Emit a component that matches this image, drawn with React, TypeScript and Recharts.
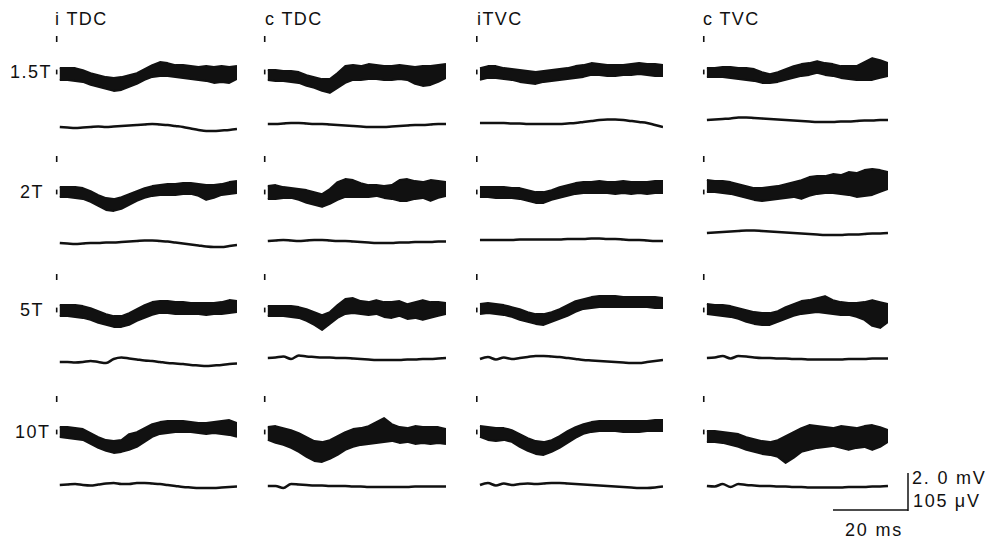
import React from "react";
import { ComposedChart, Area, Line, XAxis, YAxis, ReferenceLine } from "recharts";

// ---- data ----------------------------------------------------------------
const TIME_MS = [0, 2, 4, 6, 8, 10, 12, 14, 16, 18, 20, 22, 24, 26, 28, 30, 32, 34, 36, 38, 40, 42, 44, 46];
const COLUMN_TITLES = ["i TDC", "c TDC", "iTVC", "c TVC"];
const ROW_LABELS = ["1.5T", "2T", "5T", "10T"];

// raw sweeps envelope (mV, upper / lower edge) and averaged response (µV)
// 1.5T
const iTDC_15_hi = [0.2, 0.2, 0.2, 0.1, -0.05, -0.15, -0.25, -0.3, -0.25, -0.15, -0.05, 0.15, 0.35, 0.5, 0.45, 0.35, 0.35, 0.3, 0.25, 0.3, 0.25, 0.3, 0.25, 0.3];
const iTDC_15_lo = [-0.4, -0.4, -0.45, -0.5, -0.65, -0.75, -0.85, -0.95, -0.9, -0.75, -0.6, -0.4, -0.25, -0.2, -0.2, -0.25, -0.3, -0.35, -0.4, -0.45, -0.55, -0.5, -0.55, -0.35];
const iTDC_15_avg = [0, -1.5, -3, -1.5, 0, 1.5, 0, 1.5, 3, 4.5, 6, 7.5, 9, 7.5, 6, 3, 0, -4.5, -9, -12, -12, -10.5, -9, -6];
const cTDC_15_hi = [0.1, 0.1, 0.05, 0.05, 0, -0.15, -0.25, -0.35, -0.35, -0.05, 0.3, 0.35, 0.3, 0.4, 0.35, 0.3, 0.3, 0.35, 0.3, 0.25, 0.3, 0.3, 0.35, 0.4];
const cTDC_15_lo = [-0.4, -0.45, -0.45, -0.5, -0.55, -0.7, -0.8, -0.95, -1.05, -0.8, -0.55, -0.4, -0.4, -0.35, -0.35, -0.4, -0.4, -0.35, -0.4, -0.6, -0.7, -0.65, -0.5, -0.3];
const cTDC_15_avg = [0, 0, 1.5, 3, 3, 1.5, 0, 0, -1.5, -3, -4.5, -6, -7.5, -9, -9, -9, -7.5, -6, -4.5, -3, -3, -1.5, 0, 0];
const iTVC_15_hi = [0.2, 0.3, 0.3, 0.2, 0.15, 0.1, 0.05, 0, 0.05, 0.1, 0.15, 0.2, 0.3, 0.35, 0.45, 0.4, 0.35, 0.35, 0.35, 0.4, 0.45, 0.4, 0.4, 0.35];
const iTVC_15_lo = [-0.4, -0.3, -0.3, -0.35, -0.4, -0.5, -0.55, -0.6, -0.5, -0.45, -0.4, -0.35, -0.3, -0.25, -0.15, -0.15, -0.2, -0.2, -0.15, -0.15, -0.1, -0.15, -0.2, -0.2];
const iTVC_15_avg = [0, 0, 0, 0, -1.5, -1.5, -3, -3, -3, -3, -3, -1.5, 0, 3, 6, 9, 10.5, 10.5, 9, 6, 3, 0, -6, -12];
const cTVC_15_hi = [0.2, 0.2, 0.25, 0.25, 0.2, 0.2, 0.15, 0, -0.1, 0, 0.15, 0.3, 0.4, 0.45, 0.55, 0.45, 0.4, 0.3, 0.3, 0.3, 0.5, 0.7, 0.6, 0.45];
const cTVC_15_lo = [-0.25, -0.25, -0.25, -0.3, -0.35, -0.4, -0.45, -0.55, -0.55, -0.5, -0.4, -0.3, -0.2, -0.15, -0.05, -0.15, -0.2, -0.3, -0.35, -0.4, -0.4, -0.4, -0.3, -0.2];
const cTVC_15_avg = [0, 1.5, 3, 4.5, 7.5, 7.5, 6, 4.5, 3, 1.5, 0, -1.5, -3, -4.5, -6, -6, -6, -4.5, -4.5, -3, -1.5, -1.5, 0, 0];
// 2T
const iTDC_2_hi = [0.25, 0.25, 0.25, 0.2, 0.05, -0.15, -0.3, -0.35, -0.25, -0.1, 0.05, 0.2, 0.3, 0.35, 0.4, 0.4, 0.45, 0.45, 0.4, 0.35, 0.35, 0.4, 0.5, 0.55];
const iTDC_2_lo = [-0.25, -0.25, -0.3, -0.35, -0.5, -0.7, -0.9, -0.95, -0.85, -0.65, -0.45, -0.3, -0.2, -0.15, -0.15, -0.15, -0.1, -0.1, -0.2, -0.4, -0.3, -0.15, -0.1, -0.05];
const iTDC_2_avg = [0, -1.5, -3, -1.5, 0, 0, 1.5, 1.5, 3, 4.5, 6, 7.5, 7.5, 6, 4.5, 1.5, -1.5, -4.5, -7.5, -10.5, -12, -12, -9, -6];
const cTDC_2_hi = [0.3, 0.35, 0.25, 0.2, 0.15, 0.1, 0, -0.1, 0.15, 0.5, 0.65, 0.6, 0.45, 0.35, 0.35, 0.3, 0.35, 0.6, 0.65, 0.55, 0.5, 0.6, 0.55, 0.5];
const cTDC_2_lo = [-0.35, -0.35, -0.3, -0.3, -0.4, -0.55, -0.65, -0.75, -0.6, -0.4, -0.25, -0.25, -0.25, -0.25, -0.2, -0.3, -0.35, -0.45, -0.45, -0.35, -0.3, -0.45, -0.3, -0.2];
const cTDC_2_avg = [0, 1.5, 3, 1.5, 0, 1.5, 3, 3, 1.5, 0, 0, -1.5, -3, -4.5, -6, -6, -6, -4.5, -4.5, -3, -3, -3, -1.5, -1.5];
const iTVC_2_hi = [0.25, 0.25, 0.25, 0.25, 0.2, 0.2, 0.1, 0, 0, 0.1, 0.25, 0.35, 0.45, 0.5, 0.5, 0.55, 0.5, 0.5, 0.55, 0.5, 0.5, 0.5, 0.55, 0.55];
const iTVC_2_lo = [-0.25, -0.25, -0.3, -0.3, -0.3, -0.35, -0.45, -0.55, -0.55, -0.4, -0.3, -0.2, -0.1, -0.05, -0.05, -0.05, -0.05, -0.1, -0.05, -0.1, -0.05, -0.1, -0.05, -0.05];
const iTVC_2_avg = [0, 0, 0, 0, 0, 1.5, 1.5, 1.5, 1.5, 1.5, 1.5, 3, 3, 3, 4.5, 4.5, 3, 3, 1.5, 0, 0, -1.5, -3, -3];
const cTVC_2_hi = [0.6, 0.55, 0.55, 0.5, 0.4, 0.3, 0.2, 0.2, 0.25, 0.3, 0.4, 0.5, 0.6, 0.75, 0.8, 0.8, 0.9, 0.85, 1, 0.95, 1.1, 1.15, 1.1, 1];
const cTVC_2_lo = [0, 0, -0.05, -0.1, -0.2, -0.3, -0.4, -0.45, -0.4, -0.35, -0.3, -0.25, -0.35, -0.2, -0.1, -0.05, -0.05, -0.1, -0.15, -0.25, -0.2, -0.15, 0, 0.15];
const cTVC_2_avg = [0, 1.5, 3, 4.5, 6, 7.5, 7.5, 6, 4.5, 3, 1.5, 0, -1.5, -3, -4.5, -6, -6, -6, -4.5, -4.5, -3, -1.5, -1.5, 0];
// 5T
const iTDC_5_hi = [0.25, 0.25, 0.25, 0.2, 0.1, -0.05, -0.2, -0.3, -0.3, -0.15, 0.05, 0.25, 0.4, 0.45, 0.45, 0.4, 0.4, 0.35, 0.35, 0.35, 0.35, 0.4, 0.5, 0.45];
const iTDC_5_lo = [-0.3, -0.3, -0.35, -0.4, -0.5, -0.65, -0.75, -0.85, -0.85, -0.75, -0.55, -0.4, -0.25, -0.15, -0.15, -0.2, -0.2, -0.2, -0.2, -0.25, -0.2, -0.2, -0.15, -0.1];
const iTDC_5_avg = [0, 0, -1.5, 0, 3, 0, -3, 9, 13.5, 10.5, 7.5, 4.5, 3, 0, -3, -4.5, -6, -9, -10.5, -12, -10.5, -9, -6, -4.5];
const cTDC_5_hi = [0.2, 0.2, 0.2, 0.2, 0.15, 0.05, -0.1, -0.25, -0.1, 0.25, 0.55, 0.6, 0.45, 0.4, 0.5, 0.4, 0.4, 0.45, 0.3, 0.4, 0.5, 0.4, 0.4, 0.35];
const cTDC_5_lo = [-0.3, -0.3, -0.3, -0.35, -0.4, -0.55, -0.75, -1, -0.7, -0.4, -0.2, -0.15, -0.2, -0.25, -0.2, -0.35, -0.4, -0.3, -0.45, -0.4, -0.5, -0.4, -0.3, -0.2];
const cTDC_5_avg = [0, 1.5, 4.5, -3, 7.5, 4.5, 3, 1.5, 1.5, 0, 0, -1.5, -3, -4.5, -6, -6, -6, -6, -4.5, -4.5, -3, -3, -1.5, 0];
const iTVC_5_hi = [0.3, 0.35, 0.3, 0.25, 0.15, 0.05, -0.1, -0.2, -0.2, -0.1, 0.05, 0.25, 0.45, 0.55, 0.65, 0.7, 0.7, 0.7, 0.65, 0.65, 0.65, 0.65, 0.65, 0.6];
const iTVC_5_lo = [-0.2, -0.15, -0.2, -0.25, -0.35, -0.5, -0.6, -0.7, -0.75, -0.6, -0.45, -0.3, -0.1, 0.05, 0.1, 0.15, 0.15, 0.15, 0.15, 0.15, 0.15, 0.15, 0.1, 0.1];
const iTVC_5_avg = [0, 6, -1.5, 4.5, 0, 3, 6, 9, 9, 7.5, 6, 3, 0, -3, -4.5, -6, -7.5, -9, -10.5, -12, -12, -9, -6, -3];
const cTVC_5_hi = [0.3, 0.25, 0.25, 0.2, 0.1, 0, -0.1, -0.15, -0.15, -0.05, 0.15, 0.3, 0.45, 0.5, 0.6, 0.7, 0.5, 0.4, 0.35, 0.35, 0.4, 0.5, 0.4, 0.3];
const cTVC_5_lo = [-0.2, -0.25, -0.3, -0.35, -0.45, -0.6, -0.7, -0.75, -0.75, -0.6, -0.45, -0.3, -0.2, -0.15, -0.1, -0.15, -0.2, -0.25, -0.25, -0.35, -0.5, -0.8, -0.9, -0.6];
const cTVC_5_avg = [0, 1.5, 6, -1.5, 6, 4.5, 1.5, 0, 0, -1.5, -1.5, -3, -3, -4.5, -4.5, -4.5, -4.5, -4.5, -3, -3, -3, -1.5, -1.5, -1.5];
// 10T
const iTDC_10_hi = [0.25, 0.25, 0.2, 0.15, -0.05, -0.25, -0.4, -0.45, -0.4, -0.1, 0, 0.2, 0.4, 0.5, 0.55, 0.55, 0.55, 0.5, 0.45, 0.45, 0.5, 0.55, 0.6, 0.45];
const iTDC_10_lo = [-0.25, -0.3, -0.35, -0.4, -0.6, -0.8, -0.95, -1.05, -1, -0.9, -0.75, -0.5, -0.25, -0.1, -0.05, 0, 0, 0, -0.05, -0.1, -0.05, -0.1, -0.15, -0.25];
const iTDC_10_avg = [0, 1.5, 3, 0, -1.5, 1.5, 4.5, 6, 3, 3, 6, 6, 4.5, 3, 0, -3, -6, -7.5, -9, -9, -9, -7.5, -6, -4.5];
const cTDC_10_hi = [0.25, 0.3, 0.2, 0.1, -0.05, -0.25, -0.45, -0.5, -0.4, -0.2, 0, 0.15, 0.2, 0.3, 0.5, 0.7, 0.4, 0.25, 0.2, 0.3, 0.25, 0.25, 0.25, 0.15];
const cTDC_10_lo = [-0.4, -0.55, -0.65, -0.8, -1, -1.25, -1.45, -1.5, -1.35, -1.15, -0.9, -0.75, -0.65, -0.6, -0.55, -0.5, -0.45, -0.55, -0.5, -0.6, -0.55, -0.6, -0.55, -0.6];
const cTDC_10_avg = [0, 0, -6, 6, 4.5, 3, 1.5, 1.5, 0, 0, 0, -1.5, -1.5, -3, -3, -3, -3, -3, -3, -1.5, -1.5, -1.5, -1.5, -1.5];
const iTVC_10_hi = [0.3, 0.25, 0.2, 0.2, 0.1, -0.1, -0.3, -0.45, -0.5, -0.4, -0.2, 0.05, 0.25, 0.4, 0.5, 0.55, 0.55, 0.55, 0.55, 0.55, 0.55, 0.55, 0.6, 0.6];
const iTVC_10_lo = [-0.25, -0.4, -0.45, -0.4, -0.5, -0.75, -0.95, -1.1, -1.15, -1, -0.8, -0.55, -0.3, -0.1, 0, 0.05, 0.05, 0.05, 0, 0, 0, 0.05, 0.05, 0.05];
const iTVC_10_avg = [0, 6, -1.5, 4.5, 0, 3, 4.5, 3, 4.5, 6, 6, 4.5, 3, 1.5, 0, -1.5, -3, -4.5, -6, -7.5, -9, -9, -7.5, -4.5];
const cTVC_10_hi = [0.05, 0.05, 0, -0.05, -0.1, -0.25, -0.35, -0.45, -0.5, -0.4, -0.2, 0, 0.2, 0.35, 0.3, 0.25, 0.2, 0.3, 0.25, 0.2, 0.3, 0.35, 0.25, 0.1];
const cTVC_10_lo = [-0.5, -0.5, -0.55, -0.65, -0.75, -0.9, -1, -1.1, -1.15, -1.25, -1.55, -1.3, -1, -0.9, -0.8, -0.75, -0.7, -0.8, -0.9, -0.8, -0.75, -0.9, -0.75, -0.5];
const cTVC_10_avg = [0, -1.5, 6, -3, 6, 3, 1.5, 0, 0, -1.5, -1.5, -3, -3, -4.5, -4.5, -4.5, -4.5, -4.5, -3, -3, -3, -1.5, -1.5, 0];

const PANELS = [
  [
    { hi: iTDC_15_hi, lo: iTDC_15_lo, avg: iTDC_15_avg },
    { hi: cTDC_15_hi, lo: cTDC_15_lo, avg: cTDC_15_avg },
    { hi: iTVC_15_hi, lo: iTVC_15_lo, avg: iTVC_15_avg },
    { hi: cTVC_15_hi, lo: cTVC_15_lo, avg: cTVC_15_avg },
  ],
  [
    { hi: iTDC_2_hi, lo: iTDC_2_lo, avg: iTDC_2_avg },
    { hi: cTDC_2_hi, lo: cTDC_2_lo, avg: cTDC_2_avg },
    { hi: iTVC_2_hi, lo: iTVC_2_lo, avg: iTVC_2_avg },
    { hi: cTVC_2_hi, lo: cTVC_2_lo, avg: cTVC_2_avg },
  ],
  [
    { hi: iTDC_5_hi, lo: iTDC_5_lo, avg: iTDC_5_avg },
    { hi: cTDC_5_hi, lo: cTDC_5_lo, avg: cTDC_5_avg },
    { hi: iTVC_5_hi, lo: iTVC_5_lo, avg: iTVC_5_avg },
    { hi: cTVC_5_hi, lo: cTVC_5_lo, avg: cTVC_5_avg },
  ],
  [
    { hi: iTDC_10_hi, lo: iTDC_10_lo, avg: iTDC_10_avg },
    { hi: cTDC_10_hi, lo: cTDC_10_lo, avg: cTDC_10_avg },
    { hi: iTVC_10_hi, lo: iTVC_10_lo, avg: iTVC_10_avg },
    { hi: cTVC_10_hi, lo: cTVC_10_lo, avg: cTVC_10_avg },
  ],
];

// ---- layout --------------------------------------------------------------
const INK = "#111";
const FONT = '"Liberation Sans", Arial, Helvetica, sans-serif';
const COL_START = [60, 268, 480, 707];
const COL_SPAN = [177, 178, 183, 181];
const ROW_BASE = [72, 192, 310, 432];
const AVG_GAP = [
  [55, 52, 51, 48],
  [51, 49, 48, 41],
  [52, 48, 49, 48],
  [53, 54, 53, 54],
];
const CHART_H = 112;
const RAW_TOP_PX = 42; // raw baseline distance from chart top
const RAW_PX_PER_MV = 20;
const AVG_UV_PER_PX = 3;
const T_MIN = -1.5;
const T_MAX = 46;

function Panel({ row, col }: { row: number; col: number }) {
  const p = PANELS[row][col];
  const data = TIME_MS.map((t, i) => ({ t, band: [p.lo[i], p.hi[i]], avg: p.avg[i] }));
  const pxPerMs = COL_SPAN[col] / (T_MAX - 0);
  const width = Math.round((T_MAX - T_MIN) * pxPerMs);
  const left = COL_START[col] + T_MIN * pxPerMs;
  const top = ROW_BASE[row] - RAW_TOP_PX;
  const rawDomain = [-(CHART_H - RAW_TOP_PX) / RAW_PX_PER_MV, RAW_TOP_PX / RAW_PX_PER_MV];
  const g = AVG_GAP[row][col];
  const avgDomain = [-(CHART_H - RAW_TOP_PX - g) * AVG_UV_PER_PX, (RAW_TOP_PX + g) * AVG_UV_PER_PX];
  return (
    <div style={{ position: "absolute", left, top }}>
      <ComposedChart width={width} height={CHART_H} data={data} margin={{ top: 0, right: 0, bottom: 0, left: 0 }}>
        <XAxis dataKey="t" type="number" domain={[T_MIN, T_MAX]} hide />
        <YAxis yAxisId="raw" type="number" domain={rawDomain} hide />
        <YAxis yAxisId="avg" type="number" domain={avgDomain} hide />
        <ReferenceLine yAxisId="raw" segment={[{ x: -0.8, y: 1.5 }, { x: -0.8, y: 1.8 }]} stroke={INK} strokeWidth={1.6} />
        <ReferenceLine yAxisId="raw" segment={[{ x: -0.8, y: -0.12 }, { x: -0.8, y: 0.12 }]} stroke={INK} strokeWidth={1.6} />
        <Area
          yAxisId="raw"
          dataKey="band"
          type="linear"
          stroke={INK}
          strokeWidth={1.8}
          strokeLinejoin="round"
          fill={INK}
          fillOpacity={1}
          dot={false}
          activeDot={false}
          isAnimationActive={false}
        />
        <Line
          yAxisId="avg"
          dataKey="avg"
          type="monotone"
          stroke={INK}
          strokeWidth={2.5}
          dot={false}
          activeDot={false}
          isAnimationActive={false}
        />
      </ComposedChart>
    </div>
  );
}

const TITLE_LEFT = [55, 265, 477, 703];
const ROW_LABEL_LEFT = [10, 20, 20, 15];

const textStyle = (left: number, centerY: number, ls: number): React.CSSProperties => ({
  position: "absolute",
  left,
  top: centerY - 9,
  fontFamily: FONT,
  fontSize: 18,
  lineHeight: "18px",
  letterSpacing: ls,
  color: INK,
  whiteSpace: "nowrap",
});

export default function App() {
  return (
    <div style={{ position: "absolute", left: 0, top: 0, width: 999, height: 546, background: "#fff", overflow: "hidden" }}>
      {COLUMN_TITLES.map((t, c) => (
        <div key={t} style={textStyle(TITLE_LEFT[c], 19, 1.4)}>{t}</div>
      ))}
      {ROW_LABELS.map((t, r) => (
        <div key={t} style={textStyle(ROW_LABEL_LEFT[r], ROW_BASE[r], 1.5)}>{t}</div>
      ))}
      {ROW_LABELS.map((_, r) => COLUMN_TITLES.map((__, c) => <Panel key={`${r}-${c}`} row={r} col={c} />))}
      <svg style={{ position: "absolute", left: 0, top: 0 }} width={999} height={546}>
        <line x1={908} y1={473} x2={908} y2={511} stroke={INK} strokeWidth={1.5} />
        <line x1={833} y1={510} x2={908} y2={510} stroke={INK} strokeWidth={1.5} />
      </svg>
      <div style={textStyle(912, 478, 1.8)}>2. 0 mV</div>
      <div style={textStyle(913, 501, 1.7)}>105 μV</div>
      <div style={textStyle(845, 530, 1.8)}>20 ms</div>
    </div>
  );
}
